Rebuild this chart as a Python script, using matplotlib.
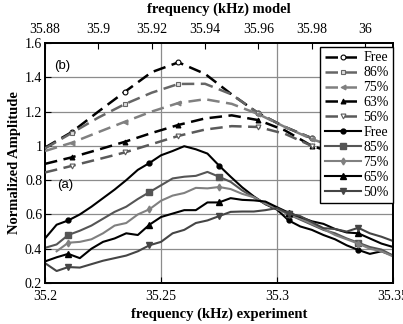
import numpy as np
import matplotlib
matplotlib.use("Agg")
import matplotlib.pyplot as plt

# ---------------- data ----------------
# experiment (bottom axis), frequency grid in kHz
f_exp = np.linspace(35.2, 35.35, 31)
exp_free = [0.46, 0.54, 0.565, 0.60, 0.645, 0.695, 0.745, 0.80, 0.86, 0.90, 0.945,
            0.97, 0.998, 0.98, 0.955, 0.885, 0.82, 0.758, 0.705, 0.66, 0.628,
            0.565, 0.53, 0.51, 0.48, 0.455, 0.42, 0.393, 0.37, 0.385, 0.36]
exp_85 = [0.405, 0.425, 0.48, 0.505, 0.535, 0.575, 0.615, 0.645, 0.69, 0.73, 0.77,
          0.81, 0.82, 0.825, 0.848, 0.82, 0.79, 0.74, 0.70, 0.66, 0.635,
          0.60, 0.57, 0.54, 0.51, 0.49, 0.46, 0.435, 0.41, 0.395, 0.36]
exp_75 = [np.nan, 0.385, 0.435, 0.44, 0.455, 0.49, 0.535, 0.55, 0.60, 0.63, 0.68,
          0.71, 0.725, 0.755, 0.752, 0.76, 0.748, 0.72, 0.70, 0.665, 0.632,
          0.60, 0.575, 0.545, 0.515, 0.48, 0.455, 0.43, 0.40, 0.385, 0.355]
exp_65 = [0.326, 0.35, 0.37, 0.345, 0.40, 0.44, 0.46, 0.49, 0.48, 0.54, 0.585,
          0.605, 0.625, 0.625, 0.67, 0.67, 0.695, 0.685, 0.682, 0.675, 0.642,
          0.61, 0.585, 0.56, 0.545, 0.515, 0.495, 0.49, 0.46, 0.43, 0.41]
exp_50 = [0.316, 0.27, 0.293, 0.29, 0.31, 0.33, 0.345, 0.36, 0.385, 0.42, 0.44,
          0.49, 0.51, 0.55, 0.565, 0.59, 0.615, 0.617, 0.617, 0.625, 0.637,
          0.605, 0.59, 0.555, 0.52, 0.515, 0.50, 0.522, 0.49, 0.47, 0.445]

# model (top axis)
f_mod = [35.88, 35.89, 35.90, 35.91, 35.92, 35.93, 35.94, 35.95, 35.96, 35.97,
         35.98, 35.99, 36.00, 36.01]
mod_free = [0.99, 1.08, 1.20, 1.316, 1.43, 1.487, 1.42, 1.30, 1.19, 1.11, 1.045, 0.99, 0.935, 0.88]
mod_86 = [0.985, 1.075, 1.165, 1.244, 1.31, 1.361, 1.362, 1.30, 1.19, 1.11, 1.045, 0.99, 0.935, 0.88]
mod_75 = [0.97, 1.018, 1.08, 1.141, 1.20, 1.25, 1.272, 1.245, 1.185, 1.11, 1.04, 0.985, 0.93, 0.875]
mod_63 = [0.895, 0.933, 0.978, 1.024, 1.075, 1.122, 1.16, 1.178, 1.15, 1.09, 1.00, 0.95, 0.90, 0.85]
mod_56 = [0.845, 0.883, 0.922, 0.962, 1.01, 1.058, 1.095, 1.115, 1.11, 1.07, 1.00, 0.95, 0.90, 0.85]

mod_labels = ["Free", "86%", "75%", "63%", "56%"]
exp_labels = ["Free", "85%", "75%", "65%", "50%"]

bottom_ticks = [35.2, 35.25, 35.3, 35.35]
top_ticks = [35.88, 35.9, 35.92, 35.94, 35.96, 35.98, 36.0]
y_ticks = [0.2, 0.4, 0.6, 0.8, 1.0, 1.2, 1.4, 1.6]

# ---------------- figure ----------------
serif = ["Liberation Serif", "DejaVu Serif"]
fig = plt.figure(figsize=(4.03, 3.24), dpi=100)
ax = fig.add_axes([0.1117, 0.1265, 0.8636, 0.7408])
ax2 = ax.twiny()

ax.set_xlim(35.2, 35.35)
ax.set_ylim(0.2, 1.6)
ax2.set_xlim(35.88, 36.0105)

# gridlines
for yv in [0.4, 0.6, 0.8, 1.0, 1.2, 1.4]:
    ax.axhline(yv, color="#8c8c8c", lw=0.9, zorder=0)
for xv in [35.25, 35.3]:
    ax.axvline(xv, color="#8c8c8c", lw=0.9, zorder=0)

exp_series = [exp_free, exp_85, exp_75, exp_65, exp_50]
exp_colors = ["#000000", "#555555", "#808080", "#000000", "#454545"]
exp_markers = ["o", "s", "d", "^", "v"]
exp_msize = [3.5, 4.5, 3.5, 4.5, 4.0]
exp_marks = [2, 9, 15, 21, 27]

handles = []
mod_series = [mod_free, mod_86, mod_75, mod_63, mod_56]
mod_colors = ["#000000", "#666666", "#808080", "#000000", "#5a5a5a"]
mod_markers = ["o", "s", "<", "^", "v"]
mod_mfc = ["white", "#dddddd", "#808080", "#000000", "white"]
mod_marks = [1, 3, 5, 8, 10]
for vals, c, m, mfc, lab in zip(mod_series, mod_colors, mod_markers, mod_mfc, mod_labels):
    ln, = ax2.plot(f_mod, vals, color=c, lw=1.8, ls=(0, (5, 2.6)), marker=m,
                   markersize=3.5, markerfacecolor=mfc, markeredgecolor=c,
                   markeredgewidth=0.8, markevery=mod_marks, label=lab, zorder=3)
    handles.append(ln)

for vals, c, m, ms, lab in zip(exp_series, exp_colors, exp_markers, exp_msize, exp_labels):
    ln, = ax.plot(f_exp, vals, color=c, lw=1.5, marker=m, markersize=ms,
                  markerfacecolor=c, markeredgecolor=c, markevery=exp_marks,
                  label=lab, zorder=3)
    handles.append(ln)

# ticks
ax.set_xticks(bottom_ticks)
ax.set_xticklabels(["35.2", "35.25", "35.3", "35.35"])
ax.set_yticks(y_ticks)
ax.set_yticklabels(["0.2", "0.4", "0.6", "0.8", "1", "1.2", "1.4", "1.6"])
ax2.set_xticks(top_ticks)
ax2.set_xticklabels(["35.88", "35.9", "35.92", "35.94", "35.96", "35.98", "36"])
for a in (ax, ax2):
    a.tick_params(direction="in", length=4, width=0.8, labelsize=10)
    for lbl in a.get_xticklabels() + a.get_yticklabels():
        lbl.set_family(serif)
    for s in a.spines.values():
        s.set_linewidth(1.3)
ax.tick_params(axis="x", pad=5)
ax.tick_params(axis="y", pad=2)
ax2.tick_params(axis="x", pad=5)

ax.set_xlabel("frequency (kHz) experiment", family=serif, fontweight="bold",
              fontsize=10.5, labelpad=3.5)
ax2.set_xlabel("frequency (kHz) model", family=serif, fontweight="bold",
               fontsize=10.5, labelpad=7.5)
ax.set_ylabel("Normalized Amplitude", family=serif, fontweight="bold",
              fontsize=10.5, labelpad=3)

ax.text(35.2072, 1.468, "(b)", family=["Liberation Sans"], fontsize=9.5,
        ha="center", va="center")
ax.text(35.2089, 0.770, "(a)", family=["Liberation Sans"], fontsize=9.5,
        ha="center", va="center")

leg = ax2.legend(handles=handles, loc="upper right", bbox_to_anchor=(1.0, 0.982),
                 prop={"family": serif, "size": 10}, frameon=True, fancybox=False,
                 borderpad=0.3, labelspacing=0.14, handlelength=2.6,
                 handletextpad=0.2, borderaxespad=0.0)
leg.get_frame().set_edgecolor("black")
leg.get_frame().set_linewidth(1.0)
leg.get_frame().set_alpha(1.0)
leg.set_zorder(10)

fig.savefig("out.png", dpi=100)
